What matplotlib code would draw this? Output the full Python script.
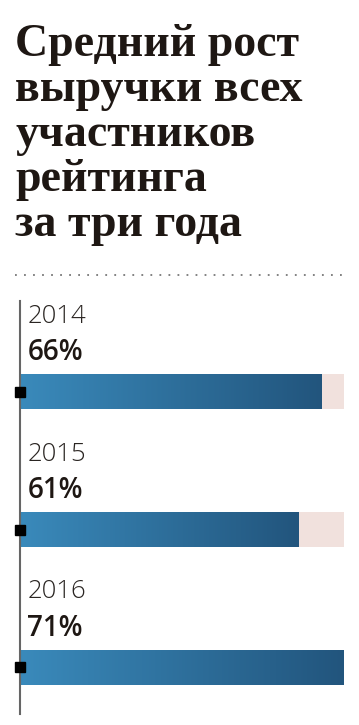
import numpy as np
import matplotlib
matplotlib.use("Agg")
import matplotlib.pyplot as plt
from matplotlib.lines import Line2D

title_lines = ["Средний рост", "выручки всех", "участников", "рейтинга", "за три года"]
years = ["2014", "2015", "2016"]
growth = [66, 61, 71]
max_growth = 71

W, H = 359, 725
fig = plt.figure(figsize=(W / 100, H / 100), dpi=100)
fig.patch.set_facecolor("white")

# title, one line at a time
for i, line in enumerate(title_lines):
    fig.text(15 / W, 1 - (56 + i * 45) / H, line, family="Liberation Serif",
             fontweight="bold", fontsize=33, color="#1e1713", va="baseline", ha="left")

# dotted rule under the title
fig.add_artist(Line2D([15 / W, 345 / W], [1 - 275 / H, 1 - 275 / H], transform=fig.transFigure,
                      color="#777777", linewidth=1.3, linestyle=(0, (1, 4))))

ax = fig.add_axes([20 / W, 1 - 714 / H, 324 / W, 413 / H])
ax.set_xlim(0, max_growth)
bar_h = 0.255
ypos = np.arange(len(years))

ax.barh(ypos, [max_growth] * len(years), height=bar_h, color="#f1e1dd", zorder=1)
bars = ax.barh(ypos, growth, height=bar_h, color="none", zorder=2)

grad = np.linspace(0, 1, 256).reshape(1, -1)
cmap = matplotlib.colors.LinearSegmentedColormap.from_list("blu", ["#3a8abb", "#22557d"])
for y, yr, v, patch in zip(ypos, years, growth, bars.patches):
    im = ax.imshow(grad, extent=(0, v, y + bar_h / 2, y - bar_h / 2), cmap=cmap,
                   aspect="auto", zorder=2, interpolation="bilinear")
    im.set_clip_path(patch)
    ax.text(1.6, y - 0.5, yr, family="Open Sans", fontweight="light",
            fontsize=18.5, color="#2a2522", va="baseline", ha="left")
    ax.text(1.6, y - 0.23, f"{v}%", family="Open Sans", fontweight="semibold",
            fontsize=20, color="#1e1713", va="baseline", ha="left")

ax.plot(np.zeros(len(years)), ypos, linestyle="none", marker="s", markersize=7,
        color="black", clip_on=False, zorder=4)

ax.set_xlim(0, max_growth)
ax.set_ylim(2.34, -0.66)
for s in ["top", "right", "bottom"]:
    ax.spines[s].set_visible(False)
ax.spines["left"].set_color("#666666")
ax.spines["left"].set_linewidth(1.5)
ax.set_xticks([])
ax.set_yticks([])
ax.patch.set_alpha(0)

fig.savefig("out.png", dpi=100)
